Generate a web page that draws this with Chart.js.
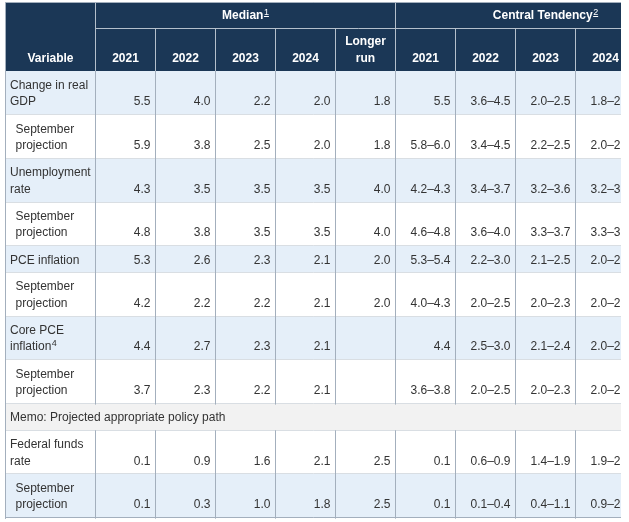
<!DOCTYPE html>
<html lang="en">

<head>
  <meta charset="UTF-8" />
  <title>Economic projections</title>
  <script src="https://cdn.jsdelivr.net/npm/chart.js"></script>
  <style>
    html,
    body {
      margin: 0;
      padding: 0;
      background: #fff;
      overflow: hidden;
    }

    #wrap {
      width: 629px;
      height: 522px;
    }
  </style>
</head>

<body>
  <div id="wrap"><canvas id="table" width="629" height="522"></canvas></div>

  <script>
    // ---- data ----
    const groupTitles = ["Median", "Central Tendency"];
    const groupNotes = ["1", "2"];
    const medianColumns = ["2021", "2022", "2023", "2024", "Longer run"];
    const tendencyColumns = ["2021", "2022", "2023", "2024", "Longer run"];

    const variables = [
      "Change in real GDP",
      "September projection",
      "Unemployment rate",
      "September projection",
      "PCE inflation",
      "September projection",
      "Core PCE inflation",
      "September projection",
      "Memo: Projected appropriate policy path",
      "Federal funds rate",
      "September projection",
    ];
    const variableNotes = ["", "", "", "", "", "", "4", "", "", "", ""];
    const rowKinds = ["main", "sub", "main", "sub", "main", "sub", "main", "sub", "memo", "main", "sub"];

    const medianValues = [
      [5.5, 4.0, 2.2, 2.0, 1.8],
      [5.9, 3.8, 2.5, 2.0, 1.8],
      [4.3, 3.5, 3.5, 3.5, 4.0],
      [4.8, 3.8, 3.5, 3.5, 4.0],
      [5.3, 2.6, 2.3, 2.1, 2.0],
      [4.2, 2.2, 2.2, 2.1, 2.0],
      [4.4, 2.7, 2.3, 2.1, null],
      [3.7, 2.3, 2.2, 2.1, null],
      null,
      [0.1, 0.9, 1.6, 2.1, 2.5],
      [0.1, 0.3, 1.0, 1.8, 2.5],
    ];

    // central tendency: single value or [low, high]
    const tendencyValues = [
      [5.5, [3.6, 4.5], [2.0, 2.5], [1.8, 2.0], [1.8, 2.0]],
      [[5.8, 6.0], [3.4, 4.5], [2.2, 2.5], [2.0, 2.2], [1.8, 2.0]],
      [[4.2, 4.3], [3.4, 3.7], [3.2, 3.6], [3.2, 3.7], [3.8, 4.2]],
      [[4.6, 4.8], [3.6, 4.0], [3.3, 3.7], [3.3, 3.6], [3.8, 4.3]],
      [[5.3, 5.4], [2.2, 3.0], [2.1, 2.5], [2.0, 2.2], 2.0],
      [[4.0, 4.3], [2.0, 2.5], [2.0, 2.3], [2.0, 2.2], 2.0],
      [4.4, [2.5, 3.0], [2.1, 2.4], [2.0, 2.2], null],
      [[3.6, 3.8], [2.0, 2.5], [2.0, 2.3], [2.0, 2.2], null],
      null,
      [0.1, [0.6, 0.9], [1.4, 1.9], [1.9, 2.9], [2.3, 2.5]],
      [0.1, [0.1, 0.4], [0.4, 1.1], [0.9, 2.1], [2.3, 2.5]],
    ];

    // ---- layout & style ----
    const W = 629, H = 522;
    const layout = {
      left: 5.5,
      top: 2.5,
      clipRight: 621,
      firstCol: 90,
      col: 60,
      headRow1: 25.5,
      headRow2: 43,
      lineHeight: 17,
      rowPad: 9.7,
      padX: 4.5,
      indent: 10,
    };
    const font = "'Liberation Sans', Arial, sans-serif";
    const colors = {
      head: "#1b3756",
      headLine: "#b4bfcb",
      border: "#a3afbd",
      rowLine: "#d9dee3",
      stripe: "#e5eff9",
      plain: "#ffffff",
      memo: "#f2f2f2",
      text: "#333333",
    };

    function fmt(v) {
      if (v === null || v === undefined) return "";
      if (Array.isArray(v)) return v[0].toFixed(1) + "\u2013" + v[1].toFixed(1);
      return v.toFixed(1);
    }

    function wrapText(ctx, text, maxWidth) {
      const words = text.split(" ");
      const lines = [];
      let line = "";
      for (const w of words) {
        const test = line ? line + " " + w : w;
        if (line && ctx.measureText(test).width > maxWidth) {
          lines.push(line);
          line = w;
        } else {
          line = test;
        }
      }
      lines.push(line);
      return lines;
    }

    // text with an optional superscript note after it
    function drawNoted(ctx, text, note, x, y, align, bold, underlineNote) {
      const weight = bold ? "bold " : "";
      ctx.font = weight + "12px " + font;
      const mainW = ctx.measureText(text).width;
      ctx.font = "9px " + font;
      const noteW = note ? ctx.measureText(note).width + 0.5 : 0;
      let startX = x;
      if (align === "center") startX = x - (mainW + noteW) / 2;
      if (align === "right") startX = x - mainW - noteW;
      ctx.textAlign = "left";
      ctx.font = weight + "12px " + font;
      ctx.fillText(text, startX, y);
      if (note) {
        ctx.font = "9px " + font;
        const nx = startX + mainW + 0.5;
        ctx.fillText(note, nx, y - 4.5);
        if (underlineNote) {
          ctx.fillRect(nx, y - 3, noteW - 0.5, 1);
        }
      }
    }

    const crisp = (v) => Math.floor(v) + 0.5;

    const tablePlugin = {
      id: "tableCells",
      afterDraw(chart) {
        const { ctx, scales } = chart;
        const X = (v) => scales.x.getPixelForValue(v);
        const Y = (v) => scales.y.getPixelForValue(v);
        const L = layout;

        const columns = medianColumns.concat(tendencyColumns);
        const colEdges = [L.left, L.left + L.firstCol];
        columns.forEach(() => colEdges.push(colEdges[colEdges.length - 1] + L.col));
        const right = L.clipRight;

        ctx.save();
        ctx.beginPath();
        ctx.rect(0, 0, X(right), H);
        ctx.clip();
        ctx.textBaseline = "alphabetic";

        // ---- body rows ----
        ctx.font = "12px " + font;
        const headBottom = L.top + L.headRow1 + L.headRow2;
        let top = headBottom;
        const rows = variables.map((name, i) => {
          const kind = rowKinds[i];
          const indent = kind === "sub" ? L.indent : L.padX;
          const maxW = kind === "memo" ? 1000 : L.firstCol - indent - L.padX;
          const lines = wrapText(ctx, name + (variableNotes[i] ? " " : ""), maxW).map((s) => s.trim());
          const h = lines.length * L.lineHeight + L.rowPad;
          const r = { i, kind, indent, lines, top, bottom: top + h };
          top += h;
          return r;
        });
        const tableBottom = top;

        rows.forEach((r) => {
          ctx.fillStyle = r.kind === "memo" ? colors.memo : r.i % 2 === 0 ? colors.stripe : colors.plain;
          ctx.fillRect(X(L.left), Y(r.top), X(right) - X(L.left), Y(r.bottom) - Y(r.top));
        });

        // horizontal row lines
        ctx.lineWidth = 1;
        ctx.strokeStyle = colors.rowLine;
        rows.forEach((r, k) => {
          if (k === rows.length - 1) return;
          ctx.beginPath();
          ctx.moveTo(X(L.left), crisp(Y(r.bottom)));
          ctx.lineTo(X(right), crisp(Y(r.bottom)));
          ctx.stroke();
        });

        // vertical column lines (not across memo row)
        ctx.strokeStyle = colors.border;
        rows.forEach((r) => {
          const edges = r.kind === "memo" ? [colEdges[0]] : colEdges;
          edges.forEach((e) => {
            ctx.beginPath();
            ctx.moveTo(crisp(X(e)), Y(r.top));
            ctx.lineTo(crisp(X(e)), Y(r.bottom) + 1);
            ctx.stroke();
          });
        });
        ctx.beginPath();
        ctx.moveTo(X(L.left), crisp(Y(tableBottom)));
        ctx.lineTo(X(right), crisp(Y(tableBottom)));
        ctx.stroke();

        // body text
        ctx.fillStyle = colors.text;
        rows.forEach((r) => {
          const firstBase = r.top + 17.8;
          r.lines.forEach((line, li) => {
            const isLast = li === r.lines.length - 1;
            drawNoted(ctx, line, isLast ? variableNotes[r.i] : "", X(L.left + r.indent), Y(firstBase + li * 16.4), "left", false, false);
          });
          if (r.kind === "memo") return;
          const base = Y(firstBase + (r.lines.length - 1) * 16.4);
          const cells = medianValues[r.i].map(fmt).concat(tendencyValues[r.i].map(fmt));
          ctx.font = "12px " + font;
          ctx.textAlign = "right";
          cells.forEach((txt, c) => {
            if (txt) ctx.fillText(txt, X(colEdges[c + 2] - L.padX - 0.5), base);
          });
        });

        // ---- header ----
        const row1Bottom = L.top + L.headRow1;
        ctx.fillStyle = colors.head;
        ctx.fillRect(X(L.left), Y(L.top), X(right) - X(L.left), Y(headBottom) - Y(L.top));

        ctx.strokeStyle = colors.headLine;
        ctx.beginPath();
        ctx.moveTo(X(colEdges[1]), crisp(Y(row1Bottom)));
        ctx.lineTo(X(right), crisp(Y(row1Bottom)));
        ctx.stroke();
        colEdges.forEach((e, k) => {
          if (k === 0) return;
          const fullHeight = k === 1 || k === 1 + medianColumns.length;
          ctx.beginPath();
          ctx.moveTo(crisp(X(e)), Y(fullHeight ? L.top : row1Bottom));
          ctx.lineTo(crisp(X(e)), Y(headBottom));
          ctx.stroke();
        });

        // outer border top and left
        ctx.strokeStyle = colors.border;
        ctx.beginPath();
        ctx.moveTo(X(L.left), crisp(Y(L.top)));
        ctx.lineTo(X(right), crisp(Y(L.top)));
        ctx.moveTo(crisp(X(L.left)), Y(L.top));
        ctx.lineTo(crisp(X(L.left)), Y(tableBottom) + 1);
        ctx.stroke();

        ctx.fillStyle = "#ffffff";
        const headBase = L.top + L.headRow1 + 33.8;
        drawNoted(ctx, "Variable", "", X((colEdges[0] + colEdges[1]) / 2), Y(headBase), "center", true, false);

        const groups = [medianColumns, tendencyColumns];
        let start = 1;
        groups.forEach((cols, g) => {
          const gx0 = colEdges[start];
          const gx1 = colEdges[start + cols.length];
          drawNoted(ctx, groupTitles[g], groupNotes[g], X((gx0 + gx1) / 2), Y(L.top + 16.5), "center", true, true);
          cols.forEach((label, c) => {
            const cx = (colEdges[start + c] + colEdges[start + c + 1]) / 2;
            ctx.font = "bold 12px " + font;
            const parts = wrapText(ctx, label, L.col - 2 * L.padX);
            parts.forEach((p, pi) => {
              const yy = headBase - (parts.length - 1 - pi) * 16.6;
              drawNoted(ctx, p, "", X(cx), Y(yy), "center", true, false);
            });
          });
          start += cols.length;
        });

        ctx.restore();
      },
    };

    new Chart(document.getElementById("table"), {
      type: "scatter",
      data: { datasets: [] },
      options: {
        responsive: false,
        animation: false,
        layout: { padding: 0 },
        plugins: { legend: { display: false }, tooltip: { enabled: false } },
        scales: {
          x: { type: "linear", min: 0, max: W, display: false },
          y: { type: "linear", min: 0, max: H, reverse: true, display: false },
        },
      },
      plugins: [tablePlugin],
    });
  </script>
</body>

</html>
